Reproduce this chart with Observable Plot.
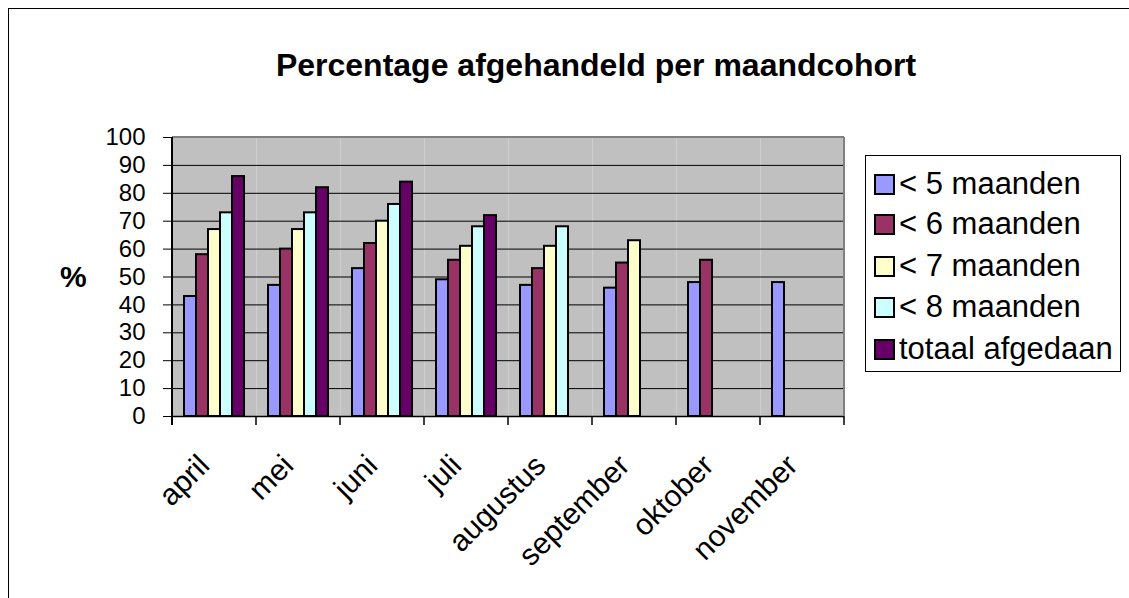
<!DOCTYPE html>
<html><head><meta charset="utf-8">
<script src="https://cdn.jsdelivr.net/npm/d3@7"></script>
<script src="https://cdn.jsdelivr.net/npm/@observablehq/plot@0.6"></script>
<style>
body{margin:0;background:#fff;font-family:Arial,"Liberation Sans",sans-serif;}
#wrap{position:relative;width:1129px;height:598px;overflow:hidden;background:#fff;}
#frame{position:absolute;left:8px;top:8px;width:1130px;height:700px;border:1px solid #000;box-sizing:border-box;}
#title{position:absolute;left:596px;top:47px;transform:translateX(-50%);white-space:nowrap;font-weight:bold;font-size:32px;color:#000;}
#chart{position:absolute;left:0;top:0;}
#ylab{position:absolute;left:60px;top:260px;font-weight:bold;font-size:30px;}
#legend{position:absolute;left:865px;top:155px;width:256px;height:217px;border:1px solid #000;box-sizing:border-box;background:#fff;}
.item{position:absolute;left:8px;height:30px;display:flex;align-items:center;font-size:31px;white-space:nowrap;}
.sw{width:17px;height:17px;border:2px solid #000;margin-right:4px;flex:none;}
</style></head><body>
<div id="wrap"><div id="frame"></div><div id="title"></div><div id="chart"></div><div id="ylab">%</div><div id="legend"></div></div>
<script>
const titleText = "Percentage afgehandeld per maandcohort";
const months = ["april","mei","juni","juli","augustus","september","oktober","november"];
const series = ["< 5 maanden","< 6 maanden","< 7 maanden","< 8 maanden","totaal afgedaan"];
const lt5 = [43,47,53,49,47,46,48,48];
const lt6 = [58,60,62,56,53,55,56,null];
const lt7 = [67,67,70,61,61,63,null,null];
const lt8 = [73,73,76,68,68,null,null,null];
const totaal = [86,82,84,72,null,null,null,null];
const colors = ["#9999ff","#993366","#ffffcc","#ccffff","#660066"];
const yTicks = [0,10,20,30,40,50,60,70,80,90,100];

const valuesBySeries = [lt5, lt6, lt7, lt8, totaal];
const rows = [];
months.forEach((m, i) => series.forEach((s, j) => {
  const v = valuesBySeries[j][i];
  if (v != null) rows.push({month: m, series: s, value: v});
}));

document.getElementById("title").textContent = titleText;

const font = 'Arial, "Liberation Sans", sans-serif';
const plot = Plot.plot({
  width: 1129, height: 598,
  marginLeft: 172, marginRight: 285, marginTop: 137, marginBottom: 182,
  style: {fontFamily: font, background: "transparent", color: "#000", overflow: "visible"},
  fx: {domain: months, padding: 0, label: null},
  x: {domain: series, paddingInner: 0, paddingOuter: 0.75, axis: null},
  y: {domain: [0, 100], label: null},
  color: {domain: series, range: colors},
  marks: [
    Plot.frame({fill: "#c0c0c0", stroke: null}),
    Plot.gridY(yTicks.slice(1), {stroke: "#000", strokeOpacity: 1, strokeWidth: 1}),
    Plot.barY(rows, {fx: "month", x: "series", y: "value", fill: "series", stroke: "#000", strokeWidth: 2, inset: 0}),
    Plot.ruleY([0], {stroke: "#000", strokeWidth: 1.5}),
    Plot.axisY({ticks: yTicks, tickSize: 9, tickPadding: 18, fontSize: 24, label: null}),
    Plot.axisFx({anchor: "bottom", tickSize: 0, tickPadding: 44, dx: -10, tickRotate: -45,
                 textAnchor: "end", lineAnchor: "middle", fontSize: 30, label: null})
  ]
});
document.getElementById("chart").appendChild(plot);

// boundary ticks, axis line and plot-area border from the library's scales
const fx = plot.scale("fx"), y = plot.scale("y");
const svg = d3.select(plot);
const edges = months.map(m => fx.apply(m));
edges.push(fx.apply(months[months.length - 1]) + fx.bandwidth);
const y0 = y.apply(0), y100 = y.apply(100);
const g = svg.append("g");
edges.forEach(e => g.append("line").attr("x1", e).attr("x2", e).attr("y1", y0).attr("y2", y0 + 9).attr("stroke", "#000").attr("stroke-width", 1.5));
g.append("line").attr("x1", edges[0]).attr("x2", edges[edges.length-1]).attr("y1", y100).attr("y2", y100).attr("stroke", "#808080").attr("stroke-width", 2);
g.append("line").attr("x1", edges[edges.length-1]).attr("x2", edges[edges.length-1]).attr("y1", y100).attr("y2", y0).attr("stroke", "#808080").attr("stroke-width", 2);
g.append("line").attr("x1", edges[0]).attr("x2", edges[0]).attr("y1", y100).attr("y2", y0 + 9).attr("stroke", "#000").attr("stroke-width", 2);

// legend
const legend = document.getElementById("legend");
const rowTops = [13, 53, 95, 136, 178];
series.forEach((s, j) => {
  const it = document.createElement("div");
  it.className = "item";
  it.style.top = rowTops[j] + "px";
  const sw = document.createElement("div");
  sw.className = "sw";
  sw.style.background = colors[j];
  const t = document.createElement("span");
  t.textContent = s;
  it.appendChild(sw); it.appendChild(t);
  legend.appendChild(it);
});
</script>
</body></html>
